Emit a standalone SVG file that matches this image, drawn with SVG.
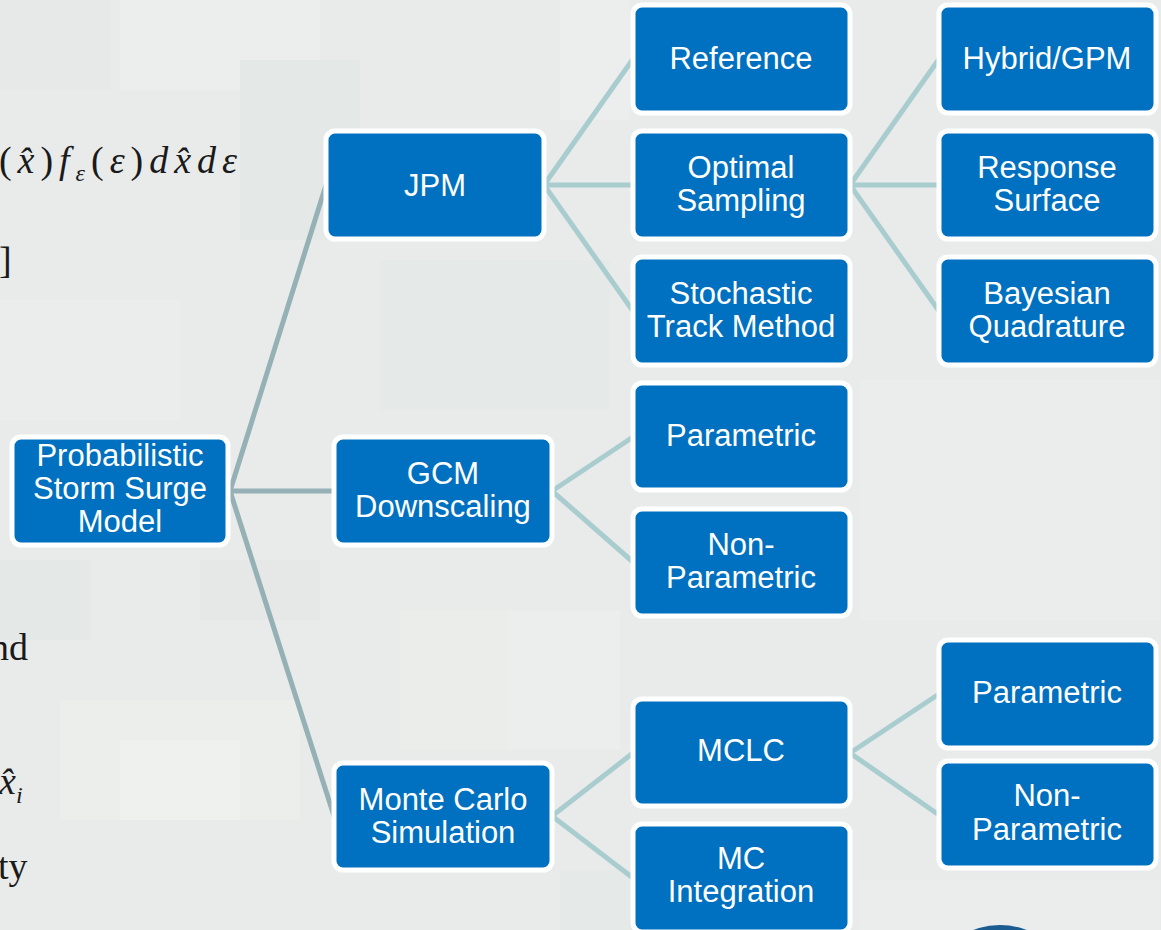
<svg xmlns="http://www.w3.org/2000/svg" width="1161" height="930" viewBox="0 0 1161 930">
<defs>
<style>
.box{fill:#0070c0;stroke:#ffffff;stroke-width:5}
.lbl{font-family:"Liberation Sans",Arial,sans-serif;font-size:31px;fill:#ffffff;text-anchor:middle}
.c1{stroke:#95b1b5;stroke-width:5;fill:none;stroke-linecap:round}
.c2{stroke:#a9cdcf;stroke-width:5;fill:none;stroke-linecap:round}
.m{font-family:"Liberation Serif","DejaVu Serif",serif;font-size:38px;fill:#1a1a1a}
</style>
</defs>
<!-- background -->
<rect x="0" y="0" width="1161" height="930" fill="#e8ebea"/>
<g id="bg-texture" opacity="0.7">
<rect x="120" y="0" width="200" height="90" fill="#edf0ee"/>
<rect x="240" y="60" width="120" height="180" fill="#e3e7e6"/>
<rect x="0" y="300" width="180" height="120" fill="#eceeec"/>
<rect x="380" y="260" width="230" height="150" fill="#e4e8e7"/>
<rect x="860" y="380" width="300" height="240" fill="#eceeec"/>
<rect x="60" y="700" width="240" height="120" fill="#eef0ed"/>
<rect x="120" y="740" width="120" height="80" fill="#f3f4f1"/>
<rect x="400" y="610" width="220" height="140" fill="#edefec"/>
<rect x="560" y="870" width="80" height="60" fill="#e4e8e7"/>
<rect x="0" y="560" width="90" height="80" fill="#e3e7e6"/>
<rect x="200" y="560" width="120" height="60" fill="#e4e8e7"/>
<rect x="860" y="880" width="300" height="50" fill="#eceeec"/>
<rect x="560" y="0" width="70" height="120" fill="#eef0ee"/>
<rect x="0" y="0" width="110" height="90" fill="#e6e9e8"/>
</g>
<!-- partial math text at left edge -->
<g id="math">
<text class="m" x="-1" y="173" textLength="238" lengthAdjust="spacing"><tspan>(</tspan><tspan font-style="italic">x̂</tspan><tspan>)</tspan><tspan font-style="italic">f</tspan><tspan font-style="italic" font-size="24" dy="8">ε</tspan><tspan dy="-8">(</tspan><tspan font-style="italic">ε</tspan><tspan>)</tspan><tspan font-style="italic">d</tspan><tspan font-style="italic">x̂</tspan><tspan font-style="italic">d</tspan><tspan font-style="italic">ε</tspan></text>
<text class="m" x="-1" y="273">]</text>
<text class="m" x="-10" y="660">nd</text>
<text class="m" x="-1" y="794" font-style="italic">x̂<tspan font-size="24" dy="9">i</tspan></text>
<text class="m" x="-2" y="879">ty</text>
</g>
<ellipse id="blue-shape" cx="1000" cy="965" rx="55" ry="40" fill="#1b5d90"/>
<!-- connectors -->
<g id="connectors">
<path class="c1" d="M230 491 L326 185 M230 491 L334 491 M230 491 L334 816"/>
<path class="c2" d="M544 185 L633 59 M544 185 L633 185 M544 185 L633 311"/>
<path class="c2" d="M850 185 L939 59 M850 185 L939 185 M850 185 L939 311"/>
<path class="c2" d="M552 491 L633 437 M552 491 L633 562"/>
<path class="c2" d="M552 816 L633 753 M552 816 L633 878"/>
<path class="c2" d="M850 753 L939 694 M850 753 L939 815"/>
</g>
<!-- nodes -->
<g id="root"><rect class="box" x="12" y="437" width="216" height="108" rx="9"/><text class="lbl" x="120" y="466">Probabilistic</text><text class="lbl" x="120" y="499">Storm Surge</text><text class="lbl" x="120" y="532">Model</text></g>
<g id="jpm"><rect class="box" x="326" y="131" width="218" height="108" rx="9"/><text class="lbl" x="435" y="196">JPM</text></g>
<g id="gcm"><rect class="box" x="334" y="437" width="218" height="108" rx="9"/><text class="lbl" x="443" y="484">GCM</text><text class="lbl" x="443" y="517">Downscaling</text></g>
<g id="mcs"><rect class="box" x="334" y="763" width="218" height="107" rx="9"/><text class="lbl" x="443" y="810">Monte Carlo</text><text class="lbl" x="443" y="843">Simulation</text></g>
<g id="reference"><rect class="box" x="633" y="5" width="217" height="108" rx="9"/><text class="lbl" x="741" y="69">Reference</text></g>
<g id="optimal"><rect class="box" x="633" y="131" width="217" height="108" rx="9"/><text class="lbl" x="741" y="178">Optimal</text><text class="lbl" x="741" y="211">Sampling</text></g>
<g id="stochastic"><rect class="box" x="633" y="257" width="217" height="108" rx="9"/><text class="lbl" x="741" y="304">Stochastic</text><text class="lbl" x="741" y="337">Track Method</text></g>
<g id="gcm-param"><rect class="box" x="633" y="383" width="217" height="107" rx="9"/><text class="lbl" x="741" y="446">Parametric</text></g>
<g id="gcm-nonparam"><rect class="box" x="633" y="509" width="217" height="107" rx="9"/><text class="lbl" x="741" y="555">Non-</text><text class="lbl" x="741" y="588">Parametric</text></g>
<g id="mclc"><rect class="box" x="633" y="699" width="217" height="107" rx="9"/><text class="lbl" x="741" y="761">MCLC</text></g>
<g id="mcint"><rect class="box" x="633" y="824" width="217" height="108" rx="9"/><text class="lbl" x="741" y="869">MC</text><text class="lbl" x="741" y="902">Integration</text></g>
<g id="hybrid"><rect class="box" x="939" y="5" width="217" height="108" rx="9"/><text class="lbl" x="1047" y="69">Hybrid/GPM</text></g>
<g id="response"><rect class="box" x="939" y="131" width="217" height="108" rx="9"/><text class="lbl" x="1047" y="178">Response</text><text class="lbl" x="1047" y="211">Surface</text></g>
<g id="bayesian"><rect class="box" x="939" y="257" width="217" height="108" rx="9"/><text class="lbl" x="1047" y="304">Bayesian</text><text class="lbl" x="1047" y="337">Quadrature</text></g>
<g id="mclc-param"><rect class="box" x="939" y="640" width="217" height="108" rx="9"/><text class="lbl" x="1047" y="703">Parametric</text></g>
<g id="mclc-nonparam"><rect class="box" x="939" y="761" width="217" height="107" rx="9"/><text class="lbl" x="1047" y="806">Non-</text><text class="lbl" x="1047" y="840">Parametric</text></g>
</svg>
